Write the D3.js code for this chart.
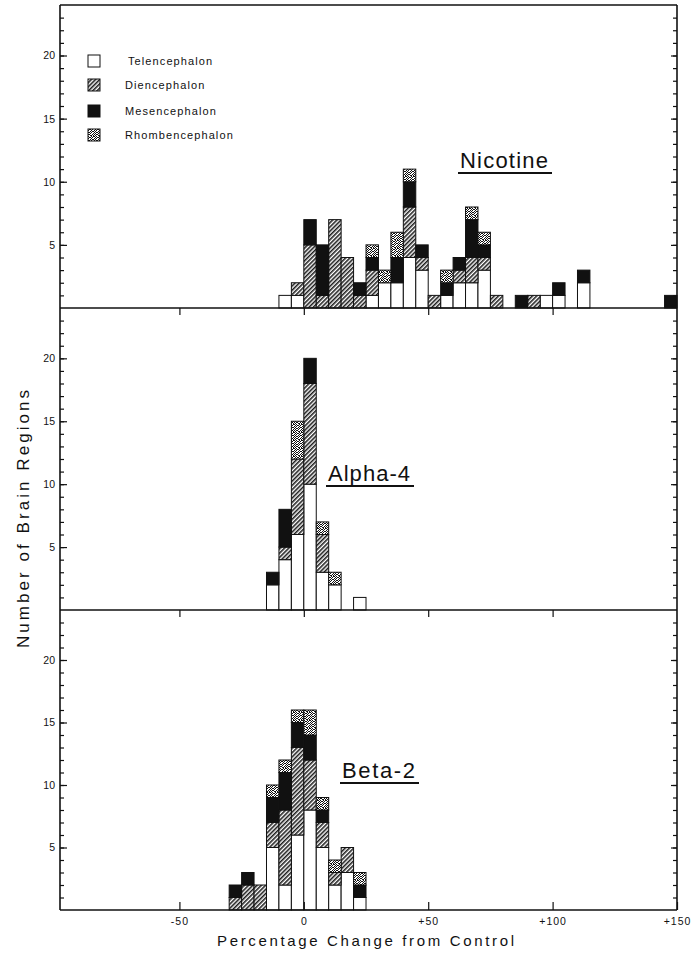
<!DOCTYPE html>
<html>
<head>
<meta charset="utf-8">
<script src="https://cdn.jsdelivr.net/npm/d3@7"></script>
<style>
body { margin: 0; background: #fff; }
svg { display: block; }
text { font-family: "Liberation Sans", "DejaVu Sans", sans-serif; fill: #111; }
</style>
</head>
<body>
<div id="divChart"></div>
<script>
// legend / stack order, bottom to top
var regions = ["Telencephalon", "Diencephalon", "Mesencephalon", "Rhombencephalon"];
var panelNames = ["Nicotine", "Alpha-4", "Beta-2"];
var xTickValues = [-50, 0, 50, 100, 150];
var xTickLabels = ["-50", "0", "+50", "+100", "+150"];
var yTickValues = [5, 10, 15, 20];

// left edges of the 5% bins, and counts per region
var nicBins = [-10, -5, 0, 5, 10, 15, 20, 25, 30, 35, 40, 45, 50, 55, 60, 65, 70, 75, 85, 90, 95, 100, 110, 145];
var nicTel  = [1, 1, 0, 0, 0, 0, 0, 1, 2, 2, 4, 3, 0, 1, 2, 2, 3, 0, 0, 0, 1, 1, 2, 0];
var nicDien = [0, 1, 5, 1, 7, 4, 1, 2, 0, 0, 4, 1, 1, 0, 1, 2, 1, 1, 0, 1, 0, 0, 0, 0];
var nicMes  = [0, 0, 2, 4, 0, 0, 1, 1, 0, 2, 2, 1, 0, 1, 1, 3, 1, 0, 1, 0, 0, 1, 1, 1];
var nicRhom = [0, 0, 0, 0, 0, 0, 0, 1, 1, 2, 1, 0, 0, 1, 0, 1, 1, 0, 0, 0, 0, 0, 0, 0];

var a4Bins = [-15, -10, -5, 0, 5, 10, 20];
var a4Tel  = [2, 4, 6, 10, 3, 2, 1];
var a4Dien = [0, 1, 6, 8, 3, 0, 0];
var a4Mes  = [1, 3, 0, 2, 0, 0, 0];
var a4Rhom = [0, 0, 3, 0, 1, 1, 0];

var b2Bins = [-30, -25, -20, -15, -10, -5, 0, 5, 10, 15, 20];
var b2Tel  = [0, 0, 0, 5, 2, 6, 8, 5, 2, 3, 1];
var b2Dien = [1, 2, 2, 2, 6, 7, 4, 2, 1, 2, 0];
var b2Mes  = [1, 1, 0, 2, 3, 2, 2, 1, 0, 0, 1];
var b2Rhom = [0, 0, 0, 1, 1, 1, 2, 1, 1, 0, 1];

var binWidth = 5;

function init()
{
    var width = 697, height = 953;
    var left = 60, right = 677;
    var tops = [5, 308, 610];
    var bases = [308, 610, 910];

    var panels = [
        {bins: nicBins, cols: [nicTel, nicDien, nicMes, nicRhom], title: {x: 460, y: 168, len: 88}},
        {bins: a4Bins,  cols: [a4Tel, a4Dien, a4Mes, a4Rhom],     title: {x: 328, y: 481, len: 82}},
        {bins: b2Bins,  cols: [b2Tel, b2Dien, b2Mes, b2Rhom],     title: {x: 342, y: 778, len: 73}}
    ];

    var svg = d3.select("#divChart").append("svg")
        .attr("width", width)
        .attr("height", height);

    var defs = svg.append("defs");
    // diagonal hatching for Diencephalon
    var hatch = defs.append("pattern")
        .attr("id", "hatch")
        .attr("patternUnits", "userSpaceOnUse")
        .attr("width", 3).attr("height", 3)
        .attr("patternTransform", "rotate(45)");
    hatch.append("rect").attr("width", 3).attr("height", 3).attr("fill", "#fff");
    hatch.append("line").attr("x1", 0.8).attr("y1", 0).attr("x2", 0.8).attr("y2", 3)
        .attr("stroke", "#111").attr("stroke-width", 1.5);
    // stipple for Rhombencephalon (hand-placed speckles)
    var stip = defs.append("pattern")
        .attr("id", "stipple")
        .attr("patternUnits", "userSpaceOnUse")
        .attr("width", 8).attr("height", 8);
    stip.append("rect").attr("width", 8).attr("height", 8).attr("fill", "#fff");
    var speck = [[0,3,5,6], [1,2,4,7], [0,3,6], [2,4,5,7], [0,1,3,6], [2,5,7], [0,1,4,6], [2,3,5,7]];
    speck.forEach(function(row, r) {
        row.forEach(function(c) {
            stip.append("rect").attr("x", c).attr("y", r).attr("width", 1).attr("height", 1).attr("fill", "#111");
        });
    });

    var fills = ["#fff", "url(#hatch)", "#111", "url(#stipple)"];

    var x = d3.scaleLinear().domain([-98, 150]).range([left, right]);

    panels.forEach(function(p, i) {
        var y = d3.scaleLinear().domain([0, 24]).range([bases[i], tops[i]]);

        var rows = p.bins.map(function(b, j) {
            var r = {bin: b};
            regions.forEach(function(k, m) { r[k] = p.cols[m][j]; });
            return r;
        });
        var series = d3.stack().keys(regions)(rows);

        var g = svg.append("g").attr("class", "panel-" + i);
        series.forEach(function(s, m) {
            g.selectAll("rect.s" + m)
                .data(s.filter(function(d) { return d[1] > d[0]; }))
                .enter().append("rect")
                .attr("class", "s" + m)
                .attr("x", function(d) { return x(d.data.bin); })
                .attr("width", function(d) { return x(d.data.bin + binWidth) - x(d.data.bin); })
                .attr("y", function(d) { return y(d[1]); })
                .attr("height", function(d) { return y(d[0]) - y(d[1]); })
                .attr("fill", fills[m])
                .attr("stroke", "#111")
                .attr("stroke-width", 1);
        });

        // left axis: minor and major ticks pointing inwards
        svg.append("g")
            .attr("transform", "translate(" + left + ",0)")
            .call(d3.axisLeft(y).tickValues(d3.range(1, 24)).tickSize(-4).tickFormat(""))
            .call(function(a) { a.select(".domain").remove(); });
        svg.append("g")
            .attr("transform", "translate(" + left + ",0)")
            .call(d3.axisLeft(y).tickValues(yTickValues).tickSize(-7).tickPadding(5))
            .call(function(a) { a.select(".domain").remove(); })
            .selectAll("text").style("font-size", "10.5px").attr("font-family", null);

        // right axis, ticks only
        svg.append("g")
            .attr("transform", "translate(" + right + ",0)")
            .call(d3.axisLeft(y).tickValues(d3.range(1, 24)).tickSize(4).tickFormat(""))
            .call(function(a) { a.select(".domain").remove(); });
        svg.append("g")
            .attr("transform", "translate(" + right + ",0)")
            .call(d3.axisLeft(y).tickValues(yTickValues).tickSize(6).tickFormat(""))
            .call(function(a) { a.select(".domain").remove(); });

        // panel title with underline
        svg.append("text")
            .attr("x", p.title.x).attr("y", p.title.y)
            .attr("textLength", p.title.len).attr("lengthAdjust", "spacing")
            .style("font-size", "22px")
            .text(panelNames[i]);
        svg.append("line")
            .attr("x1", p.title.x - 2).attr("x2", p.title.x + p.title.len + 4)
            .attr("y1", p.title.y + 5).attr("y2", p.title.y + 5)
            .attr("stroke", "#111").attr("stroke-width", 1.8);
    });

    // x ticks hanging below the upper two baselines
    [308, 610].forEach(function(b) {
        svg.append("g")
            .attr("transform", "translate(0," + b + ")")
            .call(d3.axisBottom(x).tickValues([-50, 0, 50, 100]).tickSize(7).tickFormat(""))
            .call(function(a) { a.select(".domain").remove(); });
    });
    // bottom axis with labels
    svg.append("g")
        .attr("transform", "translate(0,910)")
        .call(d3.axisBottom(x).tickValues(xTickValues).tickSize(-8).tickPadding(8)
            .tickFormat(function(d, i) { return xTickLabels[i]; }))
        .call(function(a) { a.select(".domain").remove(); })
        .selectAll("text").style("font-size", "10.5px").style("letter-spacing", "1px").attr("font-family", null);

    svg.selectAll(".tick line").attr("stroke", "#111").attr("stroke-width", 1.2);

    // frame
    var frame = svg.append("g").attr("stroke", "#111").attr("stroke-width", 1.6).attr("fill", "none");
    frame.append("line").attr("x1", left).attr("x2", left).attr("y1", 5).attr("y2", 910);
    frame.append("line").attr("x1", right).attr("x2", right).attr("y1", 5).attr("y2", 910);
    frame.append("line").attr("x1", left).attr("x2", right).attr("y1", 5).attr("y2", 5);
    bases.forEach(function(b) {
        frame.append("line").attr("x1", left).attr("x2", right).attr("y1", b).attr("y2", b);
    });

    // legend
    var legendY = [61, 85, 111, 135];
    var leg = svg.append("g");
    regions.forEach(function(r, m) {
        leg.append("rect")
            .attr("x", 88).attr("y", legendY[m] - 6)
            .attr("width", 12).attr("height", 12)
            .attr("fill", fills[m]).attr("stroke", "#111").attr("stroke-width", 1);
        leg.append("text")
            .attr("x", m === 0 ? 128 : 125).attr("y", legendY[m] + 4)
            .style("font-size", "11px").style("letter-spacing", "1.1px")
            .text(r);
    });

    // axis titles
    svg.append("text")
        .attr("x", 217).attr("y", 946)
        .attr("textLength", 297).attr("lengthAdjust", "spacing")
        .style("font-size", "15px")
        .text("Percentage Change from Control");
    svg.append("text")
        .attr("transform", "translate(29,648) rotate(-90)")
        .attr("textLength", 258).attr("lengthAdjust", "spacing")
        .style("font-size", "17px")
        .text("Number of Brain Regions");
}

window.onload = init;
</script>
</body>
</html>
